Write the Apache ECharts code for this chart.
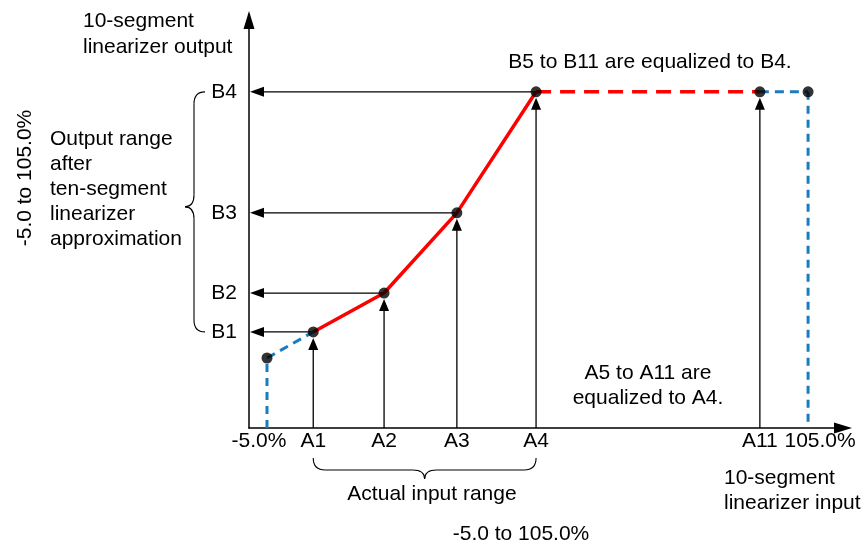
<!DOCTYPE html>
<html>
<head>
<meta charset="utf-8">
<script src="https://cdn.jsdelivr.net/npm/echarts@6/dist/echarts.min.js"></script>
<style>
html,body{margin:0;padding:0;background:#fff;}
#c{width:867px;height:545px;}
</style>
</head>
<body>
<div id="c"></div>
<script>
// ---- data (in % of input / output) ----
const xNames = ['-5.0%', 'A1', 'A2', 'A3', 'A4', 'A11', '105.0%'];
const xValues = [-5, 4.4, 18.8, 33.6, 49.7, 95.2, 105];
const yNames = ['B1', 'B2', 'B3', 'B4'];
const yValues = [0.3, 8.2, 24.5, 49.1];
const startOutput = -5;          // output at -5.0% input
const xRange = [-8.66, 112.1];
const yRange = [-19.23, 63.7];

const FONT = '"Liberation Sans", Arial, sans-serif';
const FS = 21;
const A = xValues, B = yValues;
const yMin = yRange[0], xMin = xRange[0];

const redSolid = [[A[1], B[0]], [A[2], B[1]], [A[3], B[2]], [A[4], B[3]]];
const redDash = [[A[4], B[3]], [A[5], B[3]]];
const blueSlope = [[A[0], startOutput], [A[1], B[0]]];
const blueLeftV = [[A[0], yMin], [A[0], startOutput]];
const blueTopH = [[A[5], B[3]], [A[6], B[3]]];
const blueRightV = [[A[6], B[3]], [A[6], yMin]];
const dots = [[A[0], startOutput], [A[1], B[0]], [A[2], B[1]], [A[3], B[2]], [A[4], B[3]], [A[5], B[3]], [A[6], B[3]]];
const upArrows = [[A[1], yMin, A[1], B[0]], [A[2], yMin, A[2], B[1]], [A[3], yMin, A[3], B[2]], [A[4], yMin, A[4], B[3]], [A[5], yMin, A[5], B[3]]];
const leftArrows = [[A[1], B[0], xMin, B[0]], [A[2], B[1], xMin, B[1]], [A[3], B[2], xMin, B[2]], [A[4], B[3], xMin, B[3]]];

function arrowRender(gapEnd, headLen, headW) {
  return function (params, api) {
    const p1 = api.coord([api.value(0), api.value(1)]);
    const p2 = api.coord([api.value(2), api.value(3)]);
    const dx = p2[0] - p1[0], dy = p2[1] - p1[1];
    const len = Math.sqrt(dx * dx + dy * dy);
    const ux = dx / len, uy = dy / len;
    const tip = [p2[0] - ux * gapEnd, p2[1] - uy * gapEnd];
    const base = [tip[0] - ux * headLen, tip[1] - uy * headLen];
    const nx = -uy, ny = ux;
    return {
      type: 'group',
      children: [
        { type: 'line', shape: { x1: p1[0], y1: p1[1], x2: base[0] + ux * 1, y2: base[1] + uy * 1 },
          style: { stroke: '#000', lineWidth: 1.3 } },
        { type: 'polygon', shape: { points: [tip, [base[0] + nx * headW / 2, base[1] + ny * headW / 2], [base[0] - nx * headW / 2, base[1] - ny * headW / 2]] },
          style: { fill: '#000' } }
      ]
    };
  };
}

const braceStyle = { stroke: '#000', lineWidth: 1.1, fill: null };

// bottom brace over A1..A4
function bottomBrace(params, api) {
  const p1 = api.coord([api.value(0), yMin]);
  const p2 = api.coord([api.value(1), yMin]);
  const x1 = p1[0], x2 = p2[0], xm = (x1 + x2) / 2;
  const y0 = p1[1] + 30, h = 12, d = 9, r = 12;
  const ys = y0 + h;
  return {
    type: 'group',
    children: [
      { type: 'bezierCurve', shape: { x1: x1, y1: y0, x2: x1 + r, y2: ys, cpx1: x1, cpy1: ys }, style: braceStyle },
      { type: 'line', shape: { x1: x1 + r, y1: ys, x2: xm - r, y2: ys }, style: braceStyle },
      { type: 'bezierCurve', shape: { x1: xm - r, y1: ys, x2: xm, y2: ys + d, cpx1: xm, cpy1: ys }, style: braceStyle },
      { type: 'bezierCurve', shape: { x1: xm, y1: ys + d, x2: xm + r, y2: ys, cpx1: xm, cpy1: ys }, style: braceStyle },
      { type: 'line', shape: { x1: xm + r, y1: ys, x2: x2 - r, y2: ys }, style: braceStyle },
      { type: 'bezierCurve', shape: { x1: x2 - r, y1: ys, x2: x2, y2: y0, cpx1: x2, cpy1: ys }, style: braceStyle }
    ]
  };
}

// left brace over B1..B4
function leftBrace(params, api) {
  const p1 = api.coord([xMin, api.value(0)]);
  const p2 = api.coord([xMin, api.value(1)]);
  const y1 = p1[1], y2 = p2[1], ym = (y1 + y2) / 2 - 5;
  const x0 = p1[0] - 44, h = 11, d = 9, r = 12;
  const xs = x0 - h;
  return {
    type: 'group',
    children: [
      { type: 'bezierCurve', shape: { x1: x0, y1: y1, x2: xs, y2: y1 - r, cpx1: xs, cpy1: y1 }, style: braceStyle },
      { type: 'line', shape: { x1: xs, y1: y1 - r, x2: xs, y2: ym + r }, style: braceStyle },
      { type: 'bezierCurve', shape: { x1: xs, y1: ym + r, x2: xs - d, y2: ym, cpx1: xs, cpy1: ym }, style: braceStyle },
      { type: 'bezierCurve', shape: { x1: xs - d, y1: ym, x2: xs, y2: ym - r, cpx1: xs, cpy1: ym }, style: braceStyle },
      { type: 'line', shape: { x1: xs, y1: ym - r, x2: xs, y2: y2 + r }, style: braceStyle },
      { type: 'bezierCurve', shape: { x1: xs, y1: y2 + r, x2: x0, y2: y2, cpx1: xs, cpy1: y2 }, style: braceStyle }
    ]
  };
}

function nameOf(values, names, v) {
  for (let i = 0; i < values.length; i++) if (Math.abs(values[i] - v) < 1e-6) return names[i];
  return '';
}

const chart = echarts.init(document.getElementById('c'), null, { renderer: 'canvas' });
const textStyleBase = { fill: '#000', font: FS + 'px ' + FONT };

chart.setOption({
  animation: false,
  backgroundColor: '#fff',
  grid: { left: 249, right: 24, top: 20, bottom: 117, containLabel: false },
  xAxis: {
    type: 'value', min: xRange[0], max: xRange[1],
    splitLine: { show: false }, axisTick: { show: false },
    axisLine: { show: true, onZero: false, symbol: ['none', 'triangle'], symbolSize: [11, 18], lineStyle: { color: '#000', width: 1.5 } },
    axisLabel: {
      show: true, customValues: xValues, margin: 3, color: '#000', fontSize: FS, fontFamily: FONT,
      formatter: function (v) {
        const n = nameOf(xValues, xNames, v);
        if (n === xNames[0]) return '{l|' + n + '}';
        if (n === xNames[xNames.length - 1]) return '{r|' + n + '}';
        return n;
      },
      rich: {
        l: { padding: [0, 16, 0, 0], fontSize: FS, fontFamily: FONT, color: '#000' },
        r: { padding: [0, 0, 0, 24], fontSize: FS, fontFamily: FONT, color: '#000' }
      }
    }
  },
  yAxis: {
    type: 'value', min: yRange[0], max: yRange[1],
    splitLine: { show: false }, axisTick: { show: false },
    axisLine: { show: true, onZero: false, symbol: ['none', 'triangle'], symbolSize: [11, 18], lineStyle: { color: '#000', width: 1.5 } },
    axisLabel: {
      show: true, customValues: yValues, margin: 12, color: '#000', fontSize: FS, fontFamily: FONT,
      formatter: function (v) { return nameOf(yValues, yNames, v); }
    }
  },
  series: [
    { type: 'custom', name: 'upArrows', data: upArrows, renderItem: arrowRender(6, 12, 10), clip: false, z: 2, encode: { x: [0, 2], y: [1, 3] } },
    { type: 'custom', name: 'leftArrows', data: leftArrows, renderItem: arrowRender(1, 14, 10), clip: false, z: 2, encode: { x: [0, 2], y: [1, 3] } },
    { type: 'line', data: blueSlope, symbol: 'none', lineStyle: { color: '#1a7bbd', width: 3, type: [9, 6] }, z: 3 },
    { type: 'line', data: blueLeftV, symbol: 'none', lineStyle: { color: '#1a7bbd', width: 3, type: [8, 6] }, z: 3 },
    { type: 'line', data: blueTopH, symbol: 'none', lineStyle: { color: '#1a7bbd', width: 3, type: [9, 6] }, z: 3 },
    { type: 'line', data: blueRightV, symbol: 'none', lineStyle: { color: '#1a7bbd', width: 3, type: [8, 6] }, z: 3 },
    { type: 'line', data: redDash, symbol: 'none', lineStyle: { color: '#ff0000', width: 3.5, type: [15, 9] }, z: 4 },
    { type: 'line', data: redSolid, symbol: 'none', lineStyle: { color: '#ff0000', width: 3.5 }, z: 4 },
    { type: 'scatter', data: dots, symbol: 'circle', symbolSize: 11, itemStyle: { color: '#000' }, z: 6 },
    { type: 'custom', name: 'bottomBrace', data: [[A[1], A[4]]], renderItem: bottomBrace, clip: false, encode: { x: [0, 1] } },
    { type: 'custom', name: 'leftBrace', data: [[B[0], B[3]]], renderItem: leftBrace, clip: false, encode: { y: [0, 1] } }
  ],
  graphic: [
    { type: 'text', x: 83, y: 8, style: Object.assign({ text: '10-segment\nlinearizer output', lineHeight: 26 }, textStyleBase) },
    { type: 'text', x: 650, y: 62, style: Object.assign({ text: 'B5 to B11 are equalized to B4.', textAlign: 'center', textVerticalAlign: 'middle' }, textStyleBase) },
    { type: 'text', x: 648, y: 361, style: Object.assign({ text: 'A5 to A11 are\nequalized to A4.', textAlign: 'center', lineHeight: 25 }, textStyleBase) },
    { type: 'text', x: 50, y: 127, style: Object.assign({ text: 'Output range\nafter\nten-segment\nlinearizer\napproximation', textAlign: 'left', lineHeight: 25 }, textStyleBase) },
    { type: 'text', x: 25, y: 178, rotation: Math.PI / 2, style: Object.assign({ text: '-5.0 to 105.0%', textAlign: 'center', textVerticalAlign: 'middle' }, textStyleBase) },
    { type: 'text', x: 432, y: 494, style: Object.assign({ text: 'Actual input range', textAlign: 'center', textVerticalAlign: 'middle' }, textStyleBase) },
    { type: 'text', x: 521, y: 534, style: Object.assign({ text: '-5.0 to 105.0%', textAlign: 'center', textVerticalAlign: 'middle' }, textStyleBase) },
    { type: 'text', x: 724, y: 466, style: Object.assign({ text: '10-segment\nlinearizer input', textAlign: 'left', lineHeight: 25 }, textStyleBase) }
  ]
});
</script>
</body>
</html>
